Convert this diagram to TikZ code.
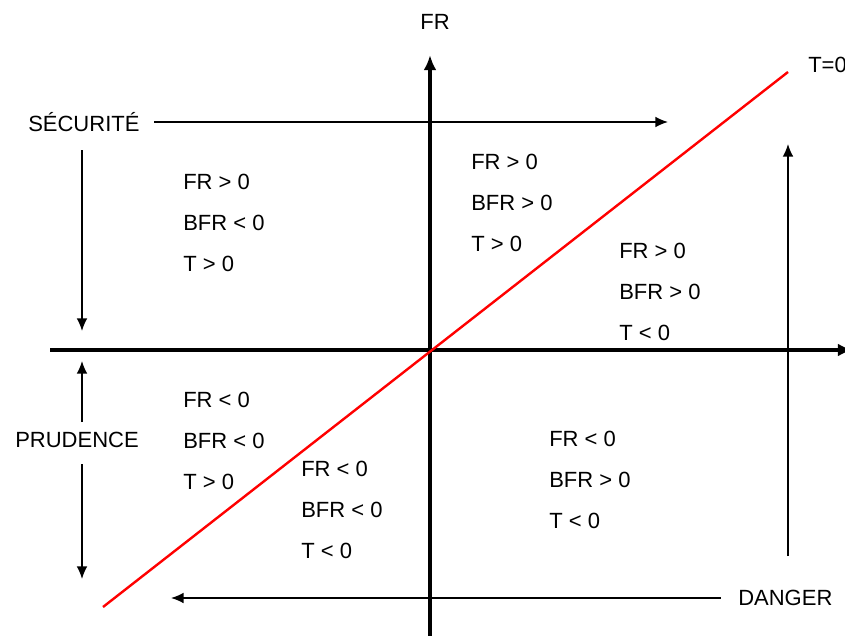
\documentclass[tikz,border=0pt]{standalone}
\usepackage{fontspec}
\setmainfont{Liberation Sans}
\usetikzlibrary{positioning, calc, arrows.meta}

\begin{document}
\begin{tikzpicture}[
  x=0.75pt, y=-0.75pt,
  >={Latex[length=3.3mm, width=2.8mm]},
  axis/.style  = {line width=2.5pt, -{Latex[length=4mm, width=3.4mm]}},
  flow/.style  = {line width=1.1pt, ->},
  tline/.style = {line width=1.8pt, red},
  lbl/.style   = {font=\fontsize{16.5}{18}\selectfont, inner sep=0pt},
  cond/.style  = {lbl, anchor=west},
]
  \useasboundingbox (0,0) rectangle (845,635);
  \clip (0,0) rectangle (845,635);

  % axes
  \coordinate (xmin) at (50,350);
  \coordinate (xmax) at (853,350);
  \coordinate (ymin) at (430,640);
  \coordinate (ymax) at (430,55);
  \draw[axis] (xmin) -- (xmax);
  \draw[axis] (ymin) -- (ymax);
  \node[lbl] (FR) at (435,22) {FR};

  % T = 0
  \coordinate (tlo) at (103,607);
  \coordinate (thi) at (788,72);
  \draw[tline] (tlo) -- (thi);
  \node[lbl, anchor=west] (T0) at (808,65) {T=0};

  % regions
  \foreach \n/\x/\y/\a/\b/\c in {
      ul/183/182/{FR > 0}/{BFR < 0}/{T > 0},
      um/471/162/{FR > 0}/{BFR > 0}/{T > 0},
      ur/619/251/{FR > 0}/{BFR > 0}/{T < 0},
      ll/183/400/{FR < 0}/{BFR < 0}/{T > 0},
      lm/301/469/{FR < 0}/{BFR < 0}/{T < 0},
      lr/549/439/{FR < 0}/{BFR > 0}/{T < 0}}
  {
    \node[cond] (\n1) at (\x,\y) {\a};
    \node[cond, below=30.5pt of \n1.west, anchor=west] (\n2) {\b};
    \node[cond, below=31pt of \n2.west, anchor=west] (\n3) {\c};
  }

  % zones
  \node[lbl, anchor=west] (secu) at (28,122) {SÉCURITÉ};
  \coordinate (secuR) at (668,122);
  \draw[flow] ([xshift=11pt]secu.east) -- (secuR);
  \coordinate (secuA) at (82,150);
  \coordinate (secuB) at (82,331);
  \draw[flow] (secuA) -- (secuB);

  \node[lbl] (prud) at (77,440) {PRUDENCE};
  \coordinate (prudA) at (82,422);
  \coordinate (prudB) at (82,361);
  \coordinate (prudC) at (82,464);
  \coordinate (prudD) at (82,579);
  \draw[flow] (prudA) -- (prudB);
  \draw[flow] (prudC) -- (prudD);

  \node[lbl, anchor=west] (dang) at (738,598) {DANGER};
  \coordinate (dangL) at (171,598);
  \draw[flow] ([xshift=-13pt]dang.west) -- (dangL);
  \coordinate (dangA) at (788,556);
  \coordinate (dangB) at (788,144);
  \draw[flow] (dangA) -- (dangB);
\end{tikzpicture}
\end{document}
